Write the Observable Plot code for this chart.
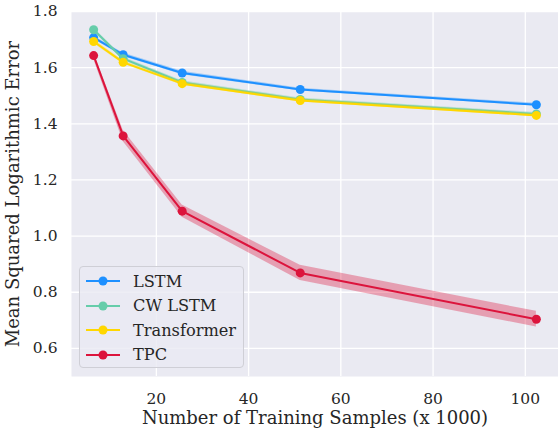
<!DOCTYPE html>
<html>
<head>
<meta charset="utf-8">
<script src="https://cdn.jsdelivr.net/npm/d3@7"></script>
<script src="https://cdn.jsdelivr.net/npm/@observablehq/plot@0.6"></script>
<style>
  html, body { margin: 0; padding: 0; background: #fff; }
  #wrap { position: relative; width: 558px; height: 428px; font-family: "DejaVu Serif", serif; }
  #wrap svg { font-family: "DejaVu Serif", serif; }
  g[aria-label="x-axis tick label"], g[aria-label="y-axis tick label"] { font-size: 15.5px; }
  g[aria-label="x-axis label"], g[aria-label="y-axis label"] { font-size: 18px; }
  #legend { position: absolute; left: 79px; top: 266px; width: 163px; height: 100px;
    border: 1px solid #cfcfd6; border-radius: 4px; background: rgba(234,234,242,0.8);
    font-size: 16.2px; color: #262626; }
  .row { position: absolute; left: 5px; height: 24px; display: flex; align-items: center; }
  .row svg { margin-right: 12px; }
</style>
</head>
<body>
<div id="wrap"></div>
<script>
const samples = [6.4, 12.8, 25.6, 51.2, 102.4];
const seriesNames = ["LSTM", "CW LSTM", "Transformer", "TPC"];
const colors = ["#1E90FF", "#66CDAA", "#FFD700", "#DC143C"];
const lstm = [1.707, 1.646, 1.581, 1.522, 1.468];
const cwLstm = [1.735, 1.632, 1.547, 1.487, 1.435];
const transformer = [1.693, 1.619, 1.543, 1.483, 1.430];
const tpc = [1.643, 1.357, 1.089, 0.869, 0.704];
const lstmErr = [0.006, 0.006, 0.006, 0.005, 0.005];
const cwLstmErr = [0.007, 0.006, 0.006, 0.005, 0.005];
const transformerErr = [0.007, 0.006, 0.006, 0.005, 0.005];
const tpcErr = [0.012, 0.02, 0.022, 0.027, 0.028];
const xTicks = [20, 40, 60, 80, 100];
const yTicks = [0.6, 0.8, 1.0, 1.2, 1.4, 1.6, 1.8];

const values = [lstm, cwLstm, transformer, tpc];
const errs = [lstmErr, cwLstmErr, transformerErr, tpcErr];
const data = [];
seriesNames.forEach((name, i) => {
  samples.forEach((s, j) => {
    data.push({series: name, x: s, y: values[i][j], lo: values[i][j] - errs[i][j], hi: values[i][j] + errs[i][j]});
  });
});

const marks = [Plot.frame({fill: "#EAEAF2", stroke: null}),
  Plot.gridX(xTicks, {stroke: "#fff", strokeOpacity: 1, strokeWidth: 1.3}),
  Plot.gridY(yTicks, {stroke: "#fff", strokeOpacity: 1, strokeWidth: 1.3}),
  Plot.axisX({ticks: xTicks, tickSize: 0, tickPadding: 16, label: "Number of Training Samples (x 1000)", labelAnchor: "center", labelOffset: 47, labelArrow: "none", fill: "#262626"}),
  Plot.axisY({ticks: yTicks, tickSize: 0, tickPadding: 14, tickFormat: d3.format(".1f"), label: "Mean Squared Logarithmic Error", labelAnchor: "center", labelOffset: 65, labelArrow: "none", fill: "#262626"})
];
seriesNames.forEach((name, i) => {
  const d = data.filter(r => r.series === name);
  marks.push(Plot.areaY(d, {x: "x", y1: "lo", y2: "hi", fill: colors[i], fillOpacity: 0.35}));
  marks.push(Plot.line(d, {x: "x", y: "y", stroke: colors[i], strokeWidth: 2}));
  marks.push(Plot.dot(d, {x: "x", y: "y", fill: colors[i], r: 4.5}));
});

const chart = Plot.plot({
  width: 558, height: 428,
  marginLeft: 71, marginRight: 0, marginTop: 11, marginBottom: 52,
  x: {domain: [1.6, 107.2]},
  y: {domain: [0.5, 1.8]},
  style: {background: "transparent", color: "#262626"},
  marks
});
const wrap = document.getElementById("wrap");
wrap.appendChild(chart);

const legend = document.createElement("div");
legend.id = "legend";
seriesNames.forEach((name, i) => {
  const row = document.createElement("div");
  row.className = "row";
  row.style.top = (2 + i * 24.5) + "px";
  row.innerHTML = `<svg width="36" height="12"><line x1="1" x2="35" y1="6" y2="6" stroke="${colors[i]}" stroke-width="2"/><circle cx="18" cy="6" r="4.5" fill="${colors[i]}"/></svg><span>${name}</span>`;
  legend.appendChild(row);
});
wrap.appendChild(legend);
</script>
</body>
</html>
